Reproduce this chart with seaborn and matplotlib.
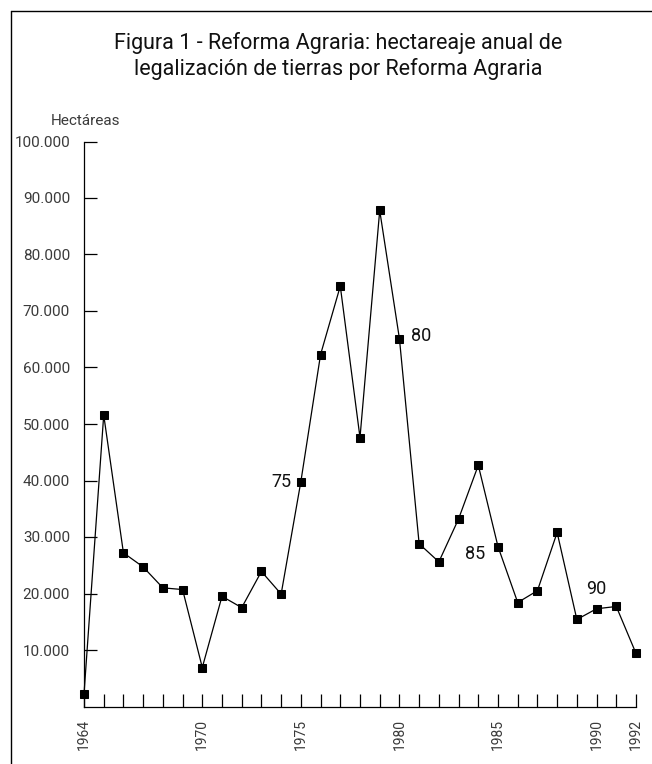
import matplotlib
matplotlib.use('Agg')
import matplotlib.pyplot as plt
import matplotlib.lines as mlines
import seaborn as sns

# Hectares legalized per year
years = list(range(1964, 1993))
hectares = [2200, 51600, 27200, 24700, 21000, 20700, 6900, 19500, 17500, 23900,
            19900, 39800, 62300, 74400, 47600, 87800, 65100, 28800, 25600, 33200,
            42700, 28300, 18400, 20500, 30800, 15400, 17300, 17700, 9400]

labeled_years = [1964, 1970, 1975, 1980, 1985, 1990, 1992]
y_ticks = [10000, 20000, 30000, 40000, 50000, 60000, 70000, 80000, 90000, 100000]

# short year labels written next to some points
note_years = [1975, 1980, 1985, 1990]
note_text = ['75', '80', '85', '90']

title_lines = ['Figura 1 - Reforma Agraria: hectareaje anual de',
               'legalización de tierras por Reforma Agraria']

sns.set_style('ticks')
plt.rcParams['font.family'] = ['Roboto', 'DejaVu Sans']

fig = plt.figure(figsize=(6.52, 7.64), dpi=100)
ax = fig.add_axes([84 / 652, 1 - 706.5 / 764, (636 - 84) / 652, (706.5 - 141.5) / 764])

sns.lineplot(x=years, y=hectares, ax=ax, color='black', linewidth=0.9,
             marker='s', markersize=6, markeredgecolor='black', clip_on=False)

ax.set_xlim(1964, 1992)
ax.set_ylim(0, 100000)

ax.set_xticks(years)
ax.set_xticklabels([str(y) if y in labeled_years else '' for y in years],
                   rotation=90, fontsize=10, color='#3a3a3a')
ax.set_yticks(y_ticks)
ax.set_yticklabels([f'{v:,}'.replace(',', '.') for v in y_ticks],
                   fontsize=11, color='#3a3a3a')
ax.tick_params(axis='both', direction='in', length=9.5, width=0.9, color='black')
ax.tick_params(axis='y', pad=10)
ax.tick_params(axis='x', pad=9)

for side in ['top', 'right']:
    ax.spines[side].set_visible(False)
for side in ['left', 'bottom']:
    ax.spines[side].set_linewidth(0.9)
    ax.spines[side].set_color('black')

offsets = {'75': (-7, 0, 'right', 'center'),
           '80': (8, 2, 'left', 'center'),
           '85': (-9, -5, 'right', 'center'),
           '90': (0, 8, 'center', 'bottom')}
for yr, txt in zip(note_years, note_text):
    dx, dy, ha, va = offsets[txt]
    ax.annotate(txt, (yr, hectares[years.index(yr)]), xytext=(dx, dy),
                textcoords='offset points', ha=ha, va=va, fontsize=13,
                color='#111111')

ax.set_ylabel('')
ax.set_xlabel('')

for i, line in enumerate(title_lines):
    fig.text(338 / 652, 1 - (49 + 26 * i) / 764, line, ha='center',
             va='baseline', fontsize=15.5, color='#111111')
fig.text(86 / 652, 1 - 125 / 764, 'Hectáreas', ha='center', va='baseline',
         fontsize=11, color='#3a3a3a')

# frame lines of the scanned page
fig.add_artist(mlines.Line2D([10.7 / 652, 1.0], [1 - 10.7 / 764, 1 - 10.7 / 764],
                             color='black', linewidth=1.0))
fig.add_artist(mlines.Line2D([10.7 / 652, 10.7 / 652], [0, 1 - 10.7 / 764],
                             color='black', linewidth=1.0))

fig.savefig('out.png', dpi=100)
